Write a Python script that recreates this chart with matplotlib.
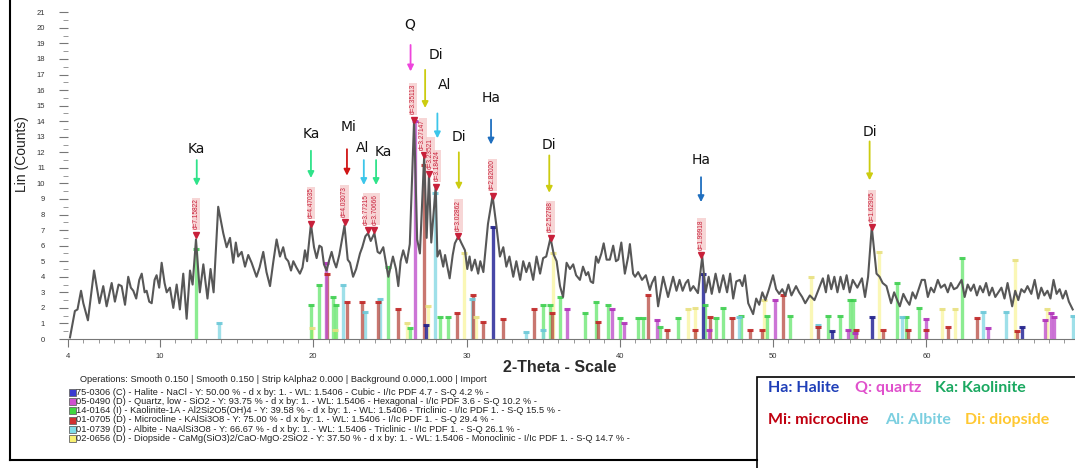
import matplotlib
matplotlib.use('Agg')
import matplotlib.pyplot as plt
from matplotlib.patches import Rectangle
from matplotlib.lines import Line2D

plt.rcParams['font.family'] = ['Liberation Sans', 'DejaVu Sans']

tt = [4.13, 4.45, 4.62, 4.85, 5.0, 5.3, 5.7, 6.05, 6.3, 6.52, 6.85, 7.06, 7.3, 7.5, 7.72,
      7.93, 8.1, 8.26, 8.45, 8.65, 8.81, 9.0, 9.13, 9.3, 9.46, 9.65, 9.78, 9.95, 10.11, 10.3,
      10.44, 10.65, 10.87, 11.09, 11.3, 11.52, 11.74, 11.96, 12.13, 12.35, 12.6, 12.83, 13.1,
      13.3, 13.5, 13.8, 14.13, 14.35, 14.57, 14.78, 14.95, 15.1, 15.33, 15.55, 15.76, 15.98,
      16.3, 16.5, 16.74, 16.95, 17.18, 17.4, 17.61, 17.83, 18.04, 18.2, 18.37, 18.55, 18.7,
      18.9, 19.13, 19.3, 19.46, 19.6, 19.85, 20.05, 20.22, 20.4, 20.55, 20.7, 20.87, 21.05,
      21.2, 21.35, 21.5, 21.7, 22.04, 22.25, 22.4, 22.6, 22.8, 23.05, 23.2, 23.4, 23.57,
      23.75, 23.99, 24.2, 24.35, 24.57, 24.9, 25.2, 25.4, 25.55, 25.7, 25.87, 26.1, 26.3,
      26.58, 26.78, 26.96, 27.24, 27.4, 27.55, 27.7, 27.99, 28.1, 28.26, 28.48, 28.6, 28.9,
      29.1, 29.24, 29.47, 29.65, 29.9, 30.05, 30.2, 30.33, 30.55, 30.76, 30.9, 31.1, 31.4,
      31.7, 31.96, 32.18, 32.4, 32.6, 32.8, 33.05, 33.25, 33.5, 33.7, 33.9, 34.1, 34.35,
      34.57, 34.8, 35.0, 35.2, 35.48, 35.7, 35.88, 36.1, 36.3, 36.53, 36.75, 36.96, 37.15,
      37.4, 37.6, 37.8, 37.94, 38.1, 38.26, 38.45, 38.6, 38.8, 38.95, 39.14, 39.35, 39.57,
      39.75, 39.9, 40.1, 40.33, 40.55, 40.66, 40.87, 41.0, 41.2, 41.45, 41.7, 41.96, 42.1,
      42.3, 42.5, 42.83, 43.15, 43.48, 43.7, 43.9, 44.1, 44.3, 44.46, 44.6, 44.8, 45.1,
      45.38, 45.6, 45.8, 46.0, 46.25, 46.5, 46.75, 47.0, 47.2, 47.4, 47.6, 47.83, 48.0,
      48.16, 48.38, 48.7, 48.9, 49.1, 49.3, 49.5, 49.7, 50.0, 50.2, 50.4, 50.6, 50.8, 51.0,
      51.2, 51.5, 51.7, 51.9, 52.1, 52.4, 52.7, 53.05, 53.25, 53.45, 53.6, 53.8, 54.0, 54.2,
      54.4, 54.6, 54.8, 55.0, 55.2, 55.5, 55.8, 56.0, 56.2, 56.44, 56.75, 56.95, 57.15, 57.4,
      57.7, 57.9, 58.1, 58.27, 58.5, 58.7, 58.9, 59.1, 59.3, 59.5, 59.7, 59.9, 60.1, 60.3,
      60.5, 60.75, 60.95, 61.2, 61.4, 61.6, 61.8, 62.0, 62.3, 62.5, 62.7, 62.9, 63.1, 63.3,
      63.5, 63.7, 63.9, 64.1, 64.3, 64.5, 64.7, 64.9, 65.1, 65.3, 65.6, 65.8, 66.0, 66.2,
      66.4, 66.6, 66.85, 67.07, 67.3, 67.5, 67.7, 67.9, 68.1, 68.3, 68.5, 68.7, 68.9, 69.1,
      69.3, 69.55]
counts = [0.1, 1.8, 1.9, 3.1, 2.3, 1.2, 4.4, 2.3, 3.4, 2.1, 3.6, 2.4, 3.5, 3.4, 2.2,
          4.0, 3.3, 3.1, 2.6, 3.8, 4.2, 3.0, 3.1, 2.4, 2.3, 3.8, 4.1, 3.3, 4.9, 3.6,
          3.0, 3.3, 2.0, 3.5, 1.9, 4.2, 1.3, 4.4, 3.5, 6.4, 3.0, 4.8, 2.6,
          4.5, 3.0, 8.5, 6.8, 5.9, 6.5, 4.9, 6.2, 5.3, 5.6, 4.65, 5.4, 4.9,
          4.0, 4.6, 5.6, 4.3, 3.4, 5.0, 6.4, 5.3, 5.9, 5.2, 5.0, 4.4, 5.0,
          4.6, 4.2, 4.6, 5.7, 5.0, 7.4, 5.9, 5.2, 6.0, 5.9, 4.8, 4.4, 5.1,
          5.6, 5.0, 4.6, 5.4, 7.3, 5.1, 4.9, 4.0, 4.5, 5.5, 5.9, 6.6, 6.8,
          6.3, 6.8, 5.6, 5.5, 5.9, 4.0, 5.3, 4.5, 3.4, 5.0, 5.7, 4.9, 6.1,
          14.1, 6.4, 5.5, 11.8, 6.5, 10.6, 6.2, 9.8, 5.3, 5.7, 4.65, 5.4, 3.9,
          5.4, 6.15, 6.6, 6.2, 5.7, 4.5, 5.3, 4.4, 5.1, 4.2, 5.0, 4.3, 7.4,
          9.2, 7.2, 5.3, 5.9, 4.65, 5.3, 4.0, 5.0, 3.8, 5.0, 4.3, 4.9, 3.8,
          5.3, 4.2, 5.2, 5.3, 6.5, 5.4, 5.0, 3.4, 2.7, 4.9, 4.5, 4.8, 4.1,
          3.8, 4.65, 4.1, 4.3, 3.7, 3.6, 5.3, 4.9, 5.5, 6.15, 5.1, 5.1, 6.0,
          5.0, 5.1, 6.2, 4.2, 5.3, 6.1, 4.2, 4.0, 4.3, 3.8, 4.1, 3.15, 3.6,
          4.0, 2.1, 4.0, 2.7, 4.0, 3.1, 3.8, 3.1, 3.6, 3.8, 3.1, 3.4, 2.95,
          5.3, 3.0, 4.0, 2.9, 4.2, 3.0, 4.1, 3.0, 4.2, 2.6, 3.7, 3.8, 3.4,
          4.1, 2.3, 1.6, 2.6, 2.2, 3.0, 2.5, 3.1, 4.1, 3.2, 2.9, 3.2, 2.8, 3.5,
          2.8, 3.4, 3.0, 2.7, 2.3, 2.8, 2.5, 3.4, 3.9, 3.0, 4.1, 3.2, 4.0, 3.0,
          4.0, 3.2, 4.1, 3.0, 3.8, 3.3, 3.9, 2.7, 4.0, 7.2, 4.2, 4.0, 3.6, 3.4,
          2.3, 3.0, 2.5, 2.1, 2.9, 2.5, 2.2, 3.0, 2.6, 3.2, 3.8, 3.8, 2.7, 3.3,
          3.0, 3.8, 3.3, 3.5, 3.0, 3.6, 3.2, 3.3, 3.8, 2.7, 3.5, 3.1, 3.5, 2.8,
          3.4, 3.0, 3.6, 2.8, 3.3, 2.7, 3.0, 3.3, 2.6, 3.6, 2.1, 3.1, 2.5, 3.2,
          3.0, 3.4, 2.9, 3.8, 2.6, 3.3, 2.8, 3.1, 2.6, 3.8, 2.9, 3.2, 2.6, 3.1,
          2.4, 1.9]

# reference patterns (stick positions / heights)
halite_pos = [27.37, 31.70, 45.45, 53.85, 56.47, 66.22]
halite_h = [0.9, 7.2, 4.2, 0.5, 1.4, 0.8]

quartz_pos = [20.86, 26.64, 36.54, 39.47, 40.30, 42.45, 45.79, 50.14, 54.87, 55.33, 59.96,
              64.03, 67.74, 68.14, 68.32]
quartz_h = [4.9, 14.0, 1.9, 1.9, 1.0, 1.2, 0.6, 2.5, 0.6, 0.4, 1.3, 0.7, 1.2, 1.65, 1.4]

kaol_pos = [12.36, 19.86, 20.36, 21.27, 21.5, 24.88, 26.3, 28.26, 28.8, 35.0, 35.45, 36.1,
            37.7, 38.45, 39.25, 40.0, 41.2, 41.5, 42.6, 43.8, 45.55, 46.3, 46.75, 47.94,
            49.6, 51.1, 53.6, 54.4, 55.0, 55.2, 58.1, 58.7, 59.5, 62.3]
kaol_h = [5.8, 2.2, 3.5, 2.7, 2.2, 4.6, 0.7, 1.4, 1.4, 2.2, 2.2, 2.7,
          1.65, 2.4, 2.2, 1.35, 1.35, 1.35, 0.75, 1.35, 2.2, 1.35, 2.0, 1.5,
          1.5, 1.5, 1.5, 1.5, 2.5, 2.5, 3.6, 1.4, 2.0, 5.2]

micro_pos = [20.9, 22.2, 23.2, 24.2, 25.55, 27.24, 29.4, 30.4, 31.1, 32.4, 34.4, 35.6, 38.6,
             41.85, 43.05, 44.9, 45.9, 47.3, 48.5, 49.25, 50.65, 52.9, 55.4, 57.2, 58.8,
             60.0, 61.4, 63.3, 65.9]
micro_h = [4.2, 2.4, 2.4, 2.4, 1.9, 11.2, 1.65, 2.8, 1.1, 1.3, 1.9, 1.7, 1.1,
           2.8, 0.6, 0.6, 1.4, 1.35, 0.6, 0.6, 2.8, 0.8, 0.6, 0.6, 0.6,
           0.6, 0.8, 1.35, 0.5]

albite_pos = [13.87, 21.96, 23.4, 24.35, 27.95, 30.33, 33.9, 35.0, 47.8, 52.95, 58.4, 63.7,
              65.2, 69.6]
albite_h = [1.0, 3.5, 1.75, 2.6, 9.4, 2.6, 0.45, 0.6, 1.4, 0.9, 1.4, 1.75, 1.75, 1.5]

diop_pos = [19.9, 21.4, 26.1, 27.5, 29.85, 30.6, 35.65, 44.45, 44.9, 49.4, 52.5, 56.9, 61.0,
            61.9, 65.8, 67.9]
diop_h = [0.7, 0.6, 1.0, 2.1, 5.5, 1.4, 5.5, 1.9, 2.0, 2.5, 4.0, 5.6, 1.9, 1.9, 5.1, 1.9]

# d-spacing labels on peaks
d_pos = [12.36, 19.85, 22.04, 23.57, 23.99, 26.58, 27.24, 27.55, 27.99, 29.47, 31.70, 35.48,
         45.33, 56.44]
d_top = [6.7, 7.4, 7.5, 7.0, 7.0, 14.1, 11.8, 10.6, 9.8, 6.6, 9.2, 6.5, 5.4, 7.2]
d_text = ['d=7.15822', 'd=4.47035', 'd=4.03073', 'd=3.77215', 'd=3.70666', 'd=3.35113',
          'd=3.27147', 'd=3.23521', 'd=3.18424', 'd=3.02862', 'd=2.82020', 'd=2.52788',
          'd=1.99918', 'd=1.62905']
# small sideways nudges so the crowded labels around 27 deg do not sit on each other
d_nudge = [0, 0, 0, -0.08, 0.08, -0.05, -0.1, 0.1, 0.08, 0, 0, 0, 0, 0]

# phase arrows
arrow_lab = ['Ka', 'Ka', 'Mi', 'Al', 'Ka', 'Q', 'Di', 'Al', 'Di', 'Ha', 'Di', 'Ha', 'Di']
arrow_x = [12.4, 19.85, 22.2, 23.3, 24.1, 26.35, 27.3, 28.1, 29.5, 31.6, 35.4, 45.3, 56.3]
arrow_top = [11.5, 12.1, 12.2, 11.5, 11.5, 18.9, 17.3, 14.5, 12.0, 14.1, 11.8, 10.4, 12.7]
arrow_tip = [9.85, 10.35, 10.5, 9.9, 9.9, 17.2, 14.85, 12.9, 9.6, 12.5, 9.4, 8.8, 10.2]
arrow_ty = [12.2, 13.2, 13.6, 12.3, 12.0, 20.2, 18.25, 16.3, 13.0, 15.5, 12.5, 11.5, 13.3]
arrow_tx = [12.4, 19.85, 22.3, 23.25, 24.6, 26.3, 28.0, 28.6, 29.5, 31.6, 35.4, 45.3, 56.3]
arrow_col = {'Ka': '#2fe38a', 'Mi': '#d01515', 'Al': '#3cc6ea', 'Q': '#ee45dc',
             'Di': '#cccc10', 'Ha': '#1f6fbf'}

fig = plt.figure(figsize=(10.75, 4.68), dpi=100)
ax = fig.add_axes([68 / 1075, 129 / 468, 1007 / 1075, 326.7 / 468])
ax.set_xlim(4, 69.7)
ax.set_ylim(0, 21)

def sticks(pos, h, color, cap, alpha):
    ax.vlines(pos, 0, h, colors=color, lw=2.4, alpha=alpha, zorder=2)
    ax.plot(pos, h, ls='none', marker='_', ms=4.5, mew=2.2, color=cap, alpha=0.9, zorder=3)

sticks(diop_pos, diop_h, '#f6f27a', '#e8e080', 0.55)
sticks(kaol_pos, kaol_h, '#3fe04a', '#3fcf50', 0.6)
sticks(albite_pos, albite_h, '#7fd6e2', '#6cc8d8', 0.75)
sticks(micro_pos, micro_h, '#b84a40', '#c02525', 0.75)
sticks(quartz_pos, quartz_h, '#c052cc', '#b030b8', 0.8)
sticks(halite_pos, halite_h, '#34349e', '#20208a', 0.9)

ax.plot(tt, counts, color='#575757', lw=1.5, zorder=4)

# peak markers and d labels
ax.plot(d_pos, d_top, ls='none', marker='v', ms=4, color='#c8203a', zorder=5)
for x, y, s, dx in zip(d_pos, d_top, d_text, d_nudge):
    ax.text(x + dx, y + 0.35, s, rotation=90, ha='center', va='bottom', fontsize=4.7,
            color='#c8203a', zorder=6,
            bbox=dict(boxstyle='square,pad=0.1', fc='#f6cccc', ec='none', alpha=0.8))

for lab, x, yt, yp, tx, ty in zip(arrow_lab, arrow_x, arrow_top, arrow_tip, arrow_tx, arrow_ty):
    c = arrow_col[lab]
    ax.annotate('', xy=(x, yp), xytext=(x, yt),
                arrowprops=dict(arrowstyle='-|>', color=c, lw=1.3, mutation_scale=9,
                                shrinkA=0, shrinkB=0), zorder=7)
    ax.text(tx, ty, lab, ha='center', va='center', fontsize=10, family='DejaVu Sans',
            color='#111111', zorder=7)

# axes styling
for s in ['top', 'right', 'left']:
    ax.spines[s].set_visible(False)
ax.spines['bottom'].set_color('#777777')
ax.set_yticks(range(0, 22))
ax.set_yticks([i + 0.5 for i in range(21)], minor=True)
ax.set_xticks([4, 10, 20, 30, 40, 50, 60])
ax.set_xticks(range(5, 70), minor=True)
ax.tick_params(axis='y', which='major', length=6.5, width=0.8, color='#777777',
               labelsize=5.5, pad=10, labelcolor='#333333')
ax.tick_params(axis='y', which='minor', length=3.5, width=0.6, color='#888888')
ax.tick_params(axis='x', which='major', length=6, width=0.8, color='#777777',
               labelsize=5.5, pad=4, labelcolor='#333333')
ax.tick_params(axis='x', which='minor', length=3, width=0.6, color='#888888')

fig.text(22 / 1075, 1 - 154 / 468, 'Lin (Counts)', rotation=90, ha='center', va='center',
         fontsize=10, color='#222222')
fig.text(560 / 1075, 1 - 368 / 468, '2-Theta - Scale', ha='center', va='center',
         fontsize=11.5, fontweight='bold', color='#2a2a2a')

# frame
fig.add_artist(Line2D([10 / 1075, 10 / 1075], [1 - 460 / 468, 1], color='black', lw=1.5))
fig.add_artist(Line2D([10 / 1075, 757 / 1075], [1 - 460 / 468, 1 - 460 / 468],
                      color='black', lw=1.5))

# pattern list
leg_text = [
    '75-0306 (C) - Halite - NaCl - Y: 50.00 % - d x by: 1. - WL: 1.5406 - Cubic - I/Ic PDF 4.7 - S-Q 4.2 % -',
    '05-0490 (D) - Quartz, low - SiO2 - Y: 93.75 % - d x by: 1. - WL: 1.5406 - Hexagonal - I/Ic PDF 3.6 - S-Q 10.2 % -',
    '14-0164 (I) - Kaolinite-1A - Al2Si2O5(OH)4 - Y: 39.58 % - d x by: 1. - WL: 1.5406 - Triclinic - I/Ic PDF 1. - S-Q 15.5 % -',
    '01-0705 (D) - Microcline - KAlSi3O8 - Y: 75.00 % - d x by: 1. - WL: 1.5406 - I/Ic PDF 1. - S-Q 29.4 % -',
    '01-0739 (D) - Albite - NaAlSi3O8 - Y: 66.67 % - d x by: 1. - WL: 1.5406 - Triclinic - I/Ic PDF 1. - S-Q 26.1 % -',
    '02-0656 (D) - Diopside - CaMg(SiO3)2/CaO·MgO·2SiO2 - Y: 37.50 % - d x by: 1. - WL: 1.5406 - Monoclinic - I/Ic PDF 1. - S-Q 14.7 % -',
]
leg_col = ['#3a3ad0', '#d050d0', '#40d840', '#d03030', '#80dde8', '#f8f070']
fig.text(80 / 1075, 1 - 380 / 468,
         'Operations: Smooth 0.150 | Smooth 0.150 | Strip kAlpha2 0.000 | Background 0.000,1.000 | Import',
         fontsize=6.7, va='center', color='#222222')
for i, (t, c) in enumerate(zip(leg_text, leg_col)):
    y = 1 - (392.7 + 9.1 * i) / 468
    fig.add_artist(Rectangle((68.5 / 1075, y - 3.5 / 468), 7 / 1075, 7 / 468,
                             fc=c, ec='#666666', lw=0.6, transform=fig.transFigure))
    fig.text(76 / 1075, y, t, fontsize=6.7, va='center', color='#222222')

# abbreviation box
fig.add_artist(Rectangle((757 / 1075, -0.05), 0.3, 1 - 377 / 468 + 0.05, fc='white',
                         ec='black', lw=1.2, transform=fig.transFigure))
key_text = ['Ha: Halite', 'Q: quartz', 'Ka: Kaolinite', 'Mi: microcline', 'Al: Albite',
            'Di: diopside']
key_col = ['#1f3fb8', '#e050cc', '#1aa860', '#c00010', '#7ccfe0', '#ffc832']
key_x = [768, 855, 935, 768, 885, 965]
key_y = [388, 388, 388, 420, 420, 420]
for t, c, x, y in zip(key_text, key_col, key_x, key_y):
    fig.text(x / 1075, 1 - y / 468, t, fontsize=11.5, fontweight='bold', family='Lato',
             color=c, va='center')

fig.savefig('out.png', dpi=100)
